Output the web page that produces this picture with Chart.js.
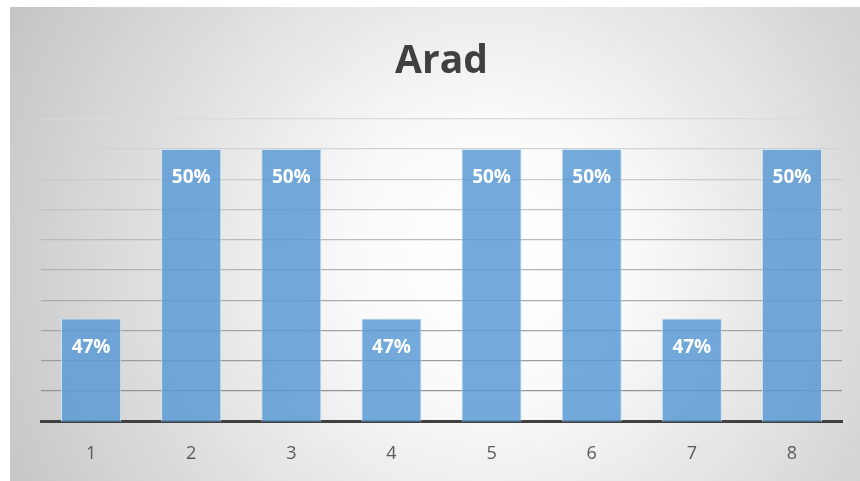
<!DOCTYPE html>
<html>
<head>
<meta charset="utf-8">
<script src="https://cdn.jsdelivr.net/npm/chart.js@4.4.0/dist/chart.umd.min.js"></script>
<style>
  html, body { margin: 0; padding: 0; background: #ffffff; }
  #wrap { width: 860px; height: 481px; position: relative; }
</style>
</head>
<body>
<div id="wrap"><canvas id="c" width="860" height="481"></canvas></div>
<script>
const chartTitle = 'Arad';
const categories = ['1', '2', '3', '4', '5', '6', '7', '8'];
const values = [0.467, 0.495, 0.495, 0.467, 0.495, 0.495, 0.467, 0.495];
const labelTexts = ['47%', '50%', '50%', '47%', '50%', '50%', '47%', '50%'];
const yMin = 0.45;
const yMax = 0.50;
const yStep = 0.005;

const bgPlugin = {
  id: 'bg',
  beforeDraw(chart) {
    const ctx = chart.ctx;
    ctx.save();
    ctx.fillStyle = '#ffffff';
    ctx.fillRect(0, 0, chart.width, chart.height);
    const g = ctx.createRadialGradient(490, 260, 0, 490, 260, 560);
    g.addColorStop(0, '#ffffff');
    g.addColorStop(0.25, '#fafafa');
    g.addColorStop(1, '#c2c2c2');
    ctx.fillStyle = g;
    ctx.fillRect(10, 7, chart.width - 10, chart.height - 7);
    ctx.restore();
  }
};

const labelPlugin = {
  id: 'barLabels',
  afterDatasetsDraw(chart) {
    const ctx = chart.ctx;
    const meta = chart.getDatasetMeta(0);
    ctx.save();
    ctx.fillStyle = '#ffffff';
    ctx.font = 'bold 19px "Open Sans", sans-serif';
    ctx.textAlign = 'center';
    ctx.textBaseline = 'middle';
    meta.data.forEach((bar, i) => {
      ctx.fillText(labelTexts[i], bar.x, bar.y + 29);
    });
    ctx.restore();
  }
};

function gridColor(ctx) {
  const n = Math.round((yMax - yMin) / yStep);
  const t = ctx.index / n; // 0 bottom, 1 top
  const c = Math.round(140 + (218 - 140) * t);
  return 'rgb(' + c + ',' + c + ',' + c + ')';
}

new Chart(document.getElementById('c'), {
  type: 'bar',
  data: {
    labels: categories,
    datasets: [{
      data: values,
      backgroundColor: 'rgba(91,155,213,0.85)',
      borderColor: 'rgba(205,224,242,0.9)',
      borderWidth: 1,
      barPercentage: 0.6,
      categoryPercentage: 1.0
    }]
  },
  options: {
    responsive: false,
    animation: false,
    devicePixelRatio: 1,
    layout: { padding: { left: 41, right: 18, top: 30, bottom: -6 } },
    plugins: {
      legend: { display: false },
      tooltip: { enabled: false },
      title: {
        display: true,
        text: chartTitle,
        color: '#404040',
        font: { family: '"Open Sans", sans-serif', size: 39, weight: 'bold' },
        padding: { top: 8, bottom: 34 }
      }
    },
    scales: {
      x: {
        grid: { display: false, drawTicks: false },
        border: { display: true, color: '#404040', width: 3 },
        ticks: {
          color: '#595959',
          font: { family: '"Open Sans", sans-serif', size: 18 },
          padding: 22
        }
      },
      y: {
        min: yMin,
        max: yMax,
        ticks: { display: false, stepSize: yStep },
        grid: { color: gridColor, lineWidth: 1.3, drawTicks: false },
        border: { display: false }
      }
    }
  },
  plugins: [bgPlugin, labelPlugin]
});
</script>
</body>
</html>
